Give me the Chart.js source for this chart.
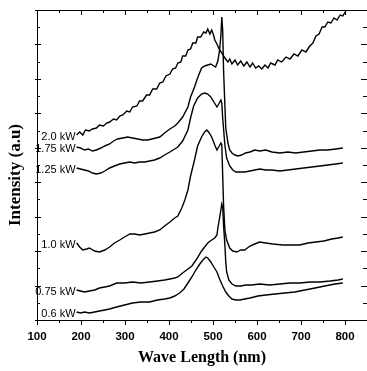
<!DOCTYPE html>
<html>
<head>
<meta charset="utf-8">
<script src="https://cdn.jsdelivr.net/npm/chart.js@4/dist/chart.umd.min.js"></script>
<style>
  html, body { margin: 0; padding: 0; background: #fff; overflow: hidden; }
  canvas { display: block; }
</style>
</head>
<body>
<canvas id="spectra" width="367" height="371"></canvas>
<script>
// power labels, top curve first
const powers = ['2.0 kW', '1.75 kW', '1.25 kW', '1.0 kW', '0.75 kW', '0.6 kW'];

// wave length (nm) / intensity (a.u.)
const wl20 = [190,197,204,210,219,226,235,242,251,258,265,274,281,288,295,304,311,317,327,333,340,349,356,363,372,379,386,393,402,408,415,420,427,431,438,443,449,454,461,465,472,479,484,488,493,497,502,504,509,513,515,520,524,527,534,538,543,550,556,563,570,577,584,590,597,604,611,618,625,631,641,647,656,666,675,684,693,702,711,720,727,734,741,748,754,761,768,775,782,789,795,802];
const int20 = [185,188,185,190,189,191,192,195,194,197,198,201,200,204,205,209,208,213,214,219,219,225,225,231,231,237,238,244,246,251,252,257,258,264,264,270,271,277,277,283,283,288,287,291,286,290,284,280,276,272,270,267,264,262,258,261,256,260,255,259,254,258,253,257,252,254,251,255,252,257,255,260,258,263,261,266,264,270,268,274,277,284,286,293,293,298,297,302,300,305,304,309];

const wl175 = [190,199,208,217,226,235,245,254,265,274,283,295,306,317,329,340,352,361,370,379,390,402,413,420,431,443,449,458,465,474,481,488,495,502,506,511,515,518,520,522,524,527,529,534,538,543,550,556,565,574,584,595,606,620,634,652,670,688,706,725,743,761,779,795];
const int175 = [173,172,170,171,169,170,172,174,176,179,181,182,183,182,181,180,180,181,182,183,187,191,194,197,203,213,223,233,242,252,254,255,256,254,253,259,270,285,303,290,250,215,192,177,170,167,165,164,165,167,168,170,169,170,168,167,168,167,168,169,170,170,171,172];

const wl125 = [190,199,208,217,226,235,245,254,265,276,288,299,311,322,333,345,356,367,379,390,402,413,420,431,443,449,456,465,474,481,488,495,502,509,513,518,520,522,527,531,538,545,552,561,572,584,595,606,620,634,652,670,688,706,725,743,761,779,795];
const int125 = [152,151,150,149,147,146,147,149,152,154,156,157,158,157,158,158,159,160,162,165,168,171,173,179,190,202,214,222,226,227,226,223,218,213,216,220,217,202,175,162,154,150,148,148,148,149,150,151,150,150,149,150,151,152,153,154,155,156,157];

const wl10 = [190,197,204,213,219,231,242,254,265,276,288,299,311,322,333,345,356,367,379,390,402,413,420,429,436,443,449,458,465,474,481,486,490,497,504,509,513,518,520,522,524,527,531,538,545,554,563,572,584,595,606,620,636,659,679,697,716,734,752,770,784,795];
const int10 = [77,73,70,71,72,69,68,70,73,77,80,83,86,86,85,86,87,88,90,94,98,102,104,112,120,130,144,160,174,183,188,190,188,183,175,170,173,177,175,145,115,90,80,72,69,68,70,70,74,76,78,77,76,75,75,75,77,78,79,81,82,83];

const wl075 = [190,199,208,219,231,242,254,265,281,299,317,336,356,374,390,402,413,420,431,440,452,463,474,481,488,497,504,509,511,515,520,522,524,527,529,531,536,543,552,563,575,588,606,629,652,675,697,720,743,766,784,795];
const int075 = [30,29,28,29,30,32,33,34,37,37,38,37,38,39,40,41,42,43,47,50,54,61,69,73,77,80,82,85,92,102,116,113,95,75,58,48,40,36,34,34,35,35,36,35,36,37,37,38,38,39,40,41];

const wl06 = [190,199,208,219,231,242,254,265,281,299,317,336,356,374,390,402,413,424,434,443,452,461,470,477,484,488,495,502,509,515,522,529,536,543,552,561,572,584,602,620,641,663,686,709,732,754,777,795];
const int06 = [8,7,8,7,8,9,10,11,13,15,17,18,18,20,21,22,24,27,31,37,43,50,56,60,63,62,58,53,48,41,34,28,24,21,20,20,21,22,24,25,26,27,28,30,32,34,36,37];

// axis ticks
const xTicks = [100,200,300,400,500,600,700,800];
const xMinor = [150,250,350,450,550,650,750,850];
const yMajor = [0,34.4,68.9,103.3,137.8,172.2,206.7,241.1,275.6,310];
const yMinor = [17.2,51.7,86.1,120.6,155,189.4,223.9,258.3,292.8];

const waves = [wl20, wl175, wl125, wl10, wl075, wl06];
const intens = [int20, int175, int125, int10, int075, int06];

function toPoints(xs, ys) {
    let pts = [];
    for (let i = 0; i < xs.length; i++) {
        pts.push({x: xs[i], y: ys[i]});
    }
    return pts;
}

let datasets = [];
for (let j = 0; j < powers.length; j++) {
    datasets.push({
        label: powers[j],
        data: toPoints(waves[j], intens[j]),
        borderColor: '#000',
        borderWidth: 1.4,
        pointRadius: 0,
        tension: 0,
        fill: false
    });
}

// frame ticks (inward like the original) + power labels + y title
const framePlugin = {
    id: 'frame',
    afterDraw(chart) {
        const ctx = chart.ctx;
        const a = chart.chartArea;
        const xs = chart.scales.x, ys = chart.scales.y;
        ctx.save();
        ctx.strokeStyle = '#000';
        ctx.lineWidth = 1;
        // top line
        ctx.beginPath();
        ctx.moveTo(a.left, a.top + 0.5);
        ctx.lineTo(a.right, a.top + 0.5);
        ctx.stroke();
        ctx.beginPath();
        xTicks.forEach(v => {
            const px = Math.round(xs.getPixelForValue(v)) + 0.5;
            ctx.moveTo(px, a.top); ctx.lineTo(px, a.top + 5);
            ctx.moveTo(px, a.bottom); ctx.lineTo(px, a.bottom + 5);
        });
        xMinor.forEach(v => {
            const px = Math.round(xs.getPixelForValue(v)) + 0.5;
            ctx.moveTo(px, a.top); ctx.lineTo(px, a.top + 3);
            ctx.moveTo(px, a.bottom); ctx.lineTo(px, a.bottom + 3);
        });
        yMajor.forEach(v => {
            const py = Math.round(ys.getPixelForValue(v)) + 0.5;
            ctx.moveTo(a.left - 2, py); ctx.lineTo(a.left + 4, py);
            ctx.moveTo(a.right, py); ctx.lineTo(a.right - 6, py);
        });
        yMinor.forEach(v => {
            const py = Math.round(ys.getPixelForValue(v)) + 0.5;
            ctx.moveTo(a.left, py); ctx.lineTo(a.left + 3, py);
            ctx.moveTo(a.right, py); ctx.lineTo(a.right - 4, py);
        });
        ctx.stroke();

        // power labels at the start of each curve
        ctx.fillStyle = '#000';
        ctx.font = '11px "Liberation Sans", Arial, sans-serif';
        ctx.textAlign = 'right';
        ctx.textBaseline = 'middle';
        for (let j = 0; j < powers.length; j++) {
            const px = xs.getPixelForValue(waves[j][0]);
            const py = ys.getPixelForValue(intens[j][0]);
            ctx.fillText(powers[j], px - 1, py + 2);
        }

        // y axis title
        ctx.font = 'bold 17px "Liberation Serif", "Times New Roman", serif';
        ctx.textAlign = 'center';
        ctx.translate(16, 175);
        ctx.rotate(-Math.PI / 2);
        ctx.fillText('Intensity (a.u)', 0, 0);
        ctx.restore();
    }
};

const cux = document.getElementById('spectra').getContext('2d');
const spectraChart = new Chart(cux, {
    type: 'line',
    data: { datasets: datasets },
    options: {
        responsive: false,
        devicePixelRatio: 1,
        animation: false,
        layout: { padding: { top: 10, right: 0, left: 0, bottom: 0 } },
        plugins: { legend: { display: false }, tooltip: { enabled: false } },
        scales: {
            x: {
                type: 'linear',
                min: 100,
                max: 850,
                afterBuildTicks: s => { s.ticks = xTicks.map(v => ({value: v})); },
                afterFit: s => { s.height = 51; },
                grid: { display: false, drawTicks: false },
                border: { display: true, color: '#000', width: 1 },
                ticks: {
                    padding: 10,
                    color: '#000',
                    maxRotation: 0,
                    font: { family: '"Liberation Sans", Arial, sans-serif', weight: 'bold', size: 11.5 }
                },
                title: {
                    display: true,
                    text: 'Wave Length (nm)',
                    color: '#000',
                    padding: { top: 0, bottom: 4 },
                    font: { family: '"Liberation Serif", "Times New Roman", serif', weight: 'bold', size: 16 }
                }
            },
            y: {
                min: 0,
                max: 310,
                afterFit: s => { s.width = 37; },
                grid: { display: false, drawTicks: false },
                border: { display: true, color: '#000', width: 1 },
                ticks: { display: false }
            }
        }
    },
    plugins: [framePlugin]
});
</script>
</body>
</html>
